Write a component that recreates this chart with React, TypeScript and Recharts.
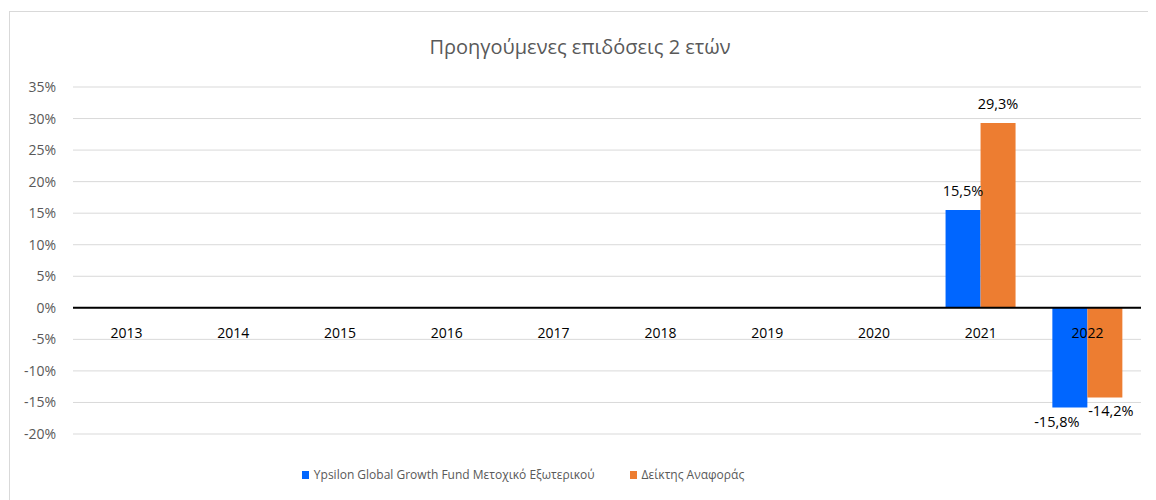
import React from 'react';
import {
  BarChart,
  Bar,
  XAxis,
  YAxis,
  CartesianGrid,
  ReferenceLine,
  Legend,
  LabelList
} from 'recharts';

const years = ['2013', '2014', '2015', '2016', '2017', '2018', '2019', '2020', '2021', '2022'];
const fundReturns: (number | null)[] = [null, null, null, null, null, null, null, null, 15.5, -15.8];
const indexReturns: (number | null)[] = [null, null, null, null, null, null, null, null, 29.3, -14.2];
const yTicks = [-20, -15, -10, -5, 0, 5, 10, 15, 20, 25, 30, 35];

const fundName = 'Ypsilon Global Growth Fund Μετοχικό Εξωτερικού';
const indexName = 'Δείκτης Αναφοράς';

const data = years.map((year, i) => ({
  year,
  fund: fundReturns[i],
  index: indexReturns[i]
}));

const W = 1140;
const H = 488;
const X_AXIS_H = 30;
const LEGEND_H = 21; // recharts still reserves room for the legend
const PLOT_BOTTOM_GAP = 67;
const MARGIN = { top: 75, right: 9, bottom: PLOT_BOTTOM_GAP - X_AXIS_H - LEGEND_H, left: 0 };
const Y_MIN = -20;
const Y_MAX = 35;
const FONT = '"Open Sans", "Noto Sans", sans-serif';

const plotH = H - PLOT_BOTTOM_GAP - MARGIN.top;
const zeroY = MARGIN.top + (plotH * Y_MAX) / (Y_MAX - Y_MIN);

const fmt = (v: number) => `${v.toFixed(1).replace('.', ',')}%`;

const YearTick = (props: any) => {
  const { x, payload } = props;
  return (
    <text x={x} y={zeroY + 31} textAnchor="middle" fill="#000" fontSize={14} fontFamily={FONT}>
      {payload.value}
    </text>
  );
};

const makeLabel = (negShift: number) => (props: any) => {
  const { x, y, width, height, value } = props;
  if (value === null || value === undefined) return null;
  const top = Math.min(y, y + height);
  const bottom = Math.max(y, y + height);
  const cx = x + width / 2;
  if (value >= 0) {
    return (
      <text x={cx} y={top - 14} textAnchor="middle" fill="#000" fontSize={14.5} fontFamily={FONT}>
        {fmt(value)}
      </text>
    );
  }
  return (
    <text x={cx + negShift} y={bottom + 19} textAnchor="middle" fill="#000" fontSize={14.5} fontFamily={FONT}>
      {fmt(value)}
    </text>
  );
};

const LegendContent = () => (
  <div
    style={{
      display: 'flex',
      justifyContent: 'center',
      gap: 35,
      paddingRight: 114,
      fontFamily: FONT,
      fontSize: 12,
      color: '#595959'
    }}
  >
    <span style={{ display: 'flex', alignItems: 'center' }}>
      <span style={{ width: 7, height: 8, background: '#0066FF', marginRight: 5, display: 'inline-block' }} />
      {fundName}
    </span>
    <span style={{ display: 'flex', alignItems: 'center' }}>
      <span style={{ width: 7, height: 8, background: '#ED7D31', marginRight: 5, display: 'inline-block' }} />
      {indexName}
    </span>
  </div>
);

export default function App() {
  return (
    <div
      style={{
        position: 'relative',
        width: W,
        height: H,
        border: '1px solid #d9d9d9',
        marginTop: 3,
        marginLeft: 1,
        background: '#fff'
      }}
    >
      <div
        style={{
          position: 'absolute',
          top: 21,
          left: 0,
          width: W,
          textAlign: 'center',
          fontFamily: FONT,
          fontSize: 20,
          color: '#595959'
        }}
      >
        Προηγούμενες επιδόσεις 2 ετών
      </div>
      <BarChart width={W} height={H} data={data} margin={MARGIN} barCategoryGap="17%" barGap={0}>
        <CartesianGrid vertical={false} stroke="#d9d9d9" strokeWidth={1} />
        <XAxis
          dataKey="year"
          axisLine={false}
          tickLine={false}
          height={X_AXIS_H}
          tick={<YearTick />}
          interval={0}
        />
        <YAxis
          domain={[Y_MIN, Y_MAX]}
          ticks={yTicks}
          width={63}
          axisLine={false}
          tickLine={false}
          tickSize={0}
          tickMargin={17}
          tickFormatter={(v: number) => `${v}%`}
          tick={{ fill: '#595959', fontSize: 14, fontFamily: FONT }}
        />
        <ReferenceLine y={0} stroke="#000" strokeWidth={2} />
        <Legend
          verticalAlign="bottom"
          height={0}
          content={<LegendContent />}
          wrapperStyle={{ position: 'absolute', top: 454, left: 0, width: W, bottom: 'auto', height: 20 }}
        />
        <Bar dataKey="fund" name={fundName} fill="#0066FF" isAnimationActive={false}>
          <LabelList dataKey="fund" content={makeLabel(-13)} />
        </Bar>
        <Bar dataKey="index" name={indexName} fill="#ED7D31" isAnimationActive={false}>
          <LabelList dataKey="index" content={makeLabel(6)} />
        </Bar>
      </BarChart>
    </div>
  );
}
